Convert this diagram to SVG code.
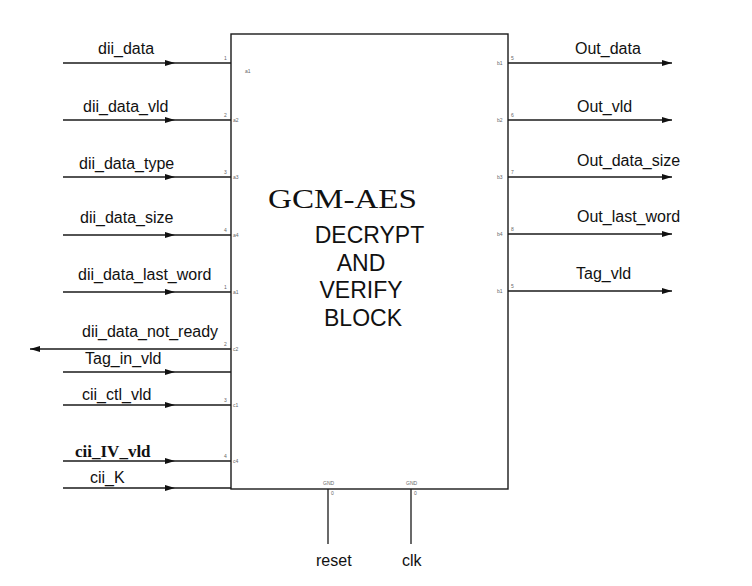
<svg xmlns="http://www.w3.org/2000/svg" width="752" height="586" viewBox="0 0 752 586">
<style>
.w{fill:none;stroke:#1a1a1a;stroke-width:1.3}
.lbl{font-family:"Liberation Sans",Arial,sans-serif;font-size:16px;fill:#111}
.pin{font-family:"Liberation Sans",Arial,sans-serif;font-size:5px;fill:#666}
.big{font-family:"Liberation Sans",Arial,sans-serif;font-size:23px;fill:#111;text-anchor:middle}
</style>
<defs>
<marker id="ah" markerUnits="userSpaceOnUse" markerWidth="12" markerHeight="8" refX="10" refY="4" orient="auto">
<path d="M0,1 L10,4 L0,7 Z" fill="#111"/>
</marker>
</defs>
<rect width="752" height="586" fill="#fff"/>
<g id="block">
<rect x="231" y="34" width="277" height="455" fill="#fff" stroke="#1a1a1a" stroke-width="1.4"/>
<text x="268" y="208" textLength="149" lengthAdjust="spacingAndGlyphs" style="font-family:'Liberation Serif','Times New Roman',serif;font-size:28px;fill:#111">GCM-AES</text>
<text class="big" x="369.5" y="243">DECRYPT</text>
<text class="big" x="361" y="271">AND</text>
<text class="big" x="361" y="298">VERIFY</text>
<text class="big" x="363" y="326">BLOCK</text>
<g class="pin">
<text x="224" y="60">1</text><text x="245" y="73">a1</text>
<text x="224" y="117">2</text><text x="233" y="122">a2</text>
<text x="224" y="174">3</text><text x="233" y="179">a3</text>
<text x="224" y="232">4</text><text x="233" y="237">a4</text>
<text x="224" y="289">1</text><text x="233" y="294">a1</text>
<text x="224" y="346">2</text><text x="233" y="351">c2</text>
<text x="224" y="402">3</text><text x="233" y="407">c1</text>
<text x="224" y="458">4</text><text x="233" y="463">c4</text>
<text x="511" y="60">5</text><text x="497" y="65">b1</text>
<text x="511" y="117">6</text><text x="497" y="122">b2</text>
<text x="511" y="174">7</text><text x="497" y="179">b3</text>
<text x="511" y="231">8</text><text x="497" y="236">b4</text>
<text x="511" y="288">5</text><text x="497" y="293">b1</text>
<text x="323" y="485">GND</text><text x="331" y="495">0</text>
<text x="406" y="485">GND</text><text x="414" y="495">0</text>
</g>
</g>
<g id="connectors">
<path class="w" d="M63,63 H175 H231" marker-mid="url(#ah)"/>
<path class="w" d="M63,120 H175 H231" marker-mid="url(#ah)"/>
<path class="w" d="M63,177 H175 H231" marker-mid="url(#ah)"/>
<path class="w" d="M63,235 H175 H231" marker-mid="url(#ah)"/>
<path class="w" d="M63,292 H175 H231" marker-mid="url(#ah)"/>
<path class="w" d="M231,349 H30" marker-end="url(#ah)"/>
<path class="w" d="M63,372 H175 H231" marker-mid="url(#ah)"/>
<path class="w" d="M63,405 H175 H231" marker-mid="url(#ah)"/>
<path class="w" d="M63,461 H175 H231" marker-mid="url(#ah)"/>
<path class="w" d="M63,488 H175 H231" marker-mid="url(#ah)"/>
<path class="w" d="M508,63 H672" marker-end="url(#ah)"/>
<path class="w" d="M508,120 H672" marker-end="url(#ah)"/>
<path class="w" d="M508,177 H672" marker-end="url(#ah)"/>
<path class="w" d="M508,234 H672" marker-end="url(#ah)"/>
<path class="w" d="M508,291 H672" marker-end="url(#ah)"/>
<path class="w" d="M328,489 V544"/>
<path class="w" d="M411,489 V544"/>
</g>
<g id="labels" class="lbl">
<text x="98" y="54">dii_data</text>
<text x="83" y="112">dii_data_vld</text>
<text x="79" y="169">dii_data_type</text>
<text x="80" y="223">dii_data_size</text>
<text x="78" y="280">dii_data_last_word</text>
<text x="82" y="337">dii_data_not_ready</text>
<text x="85" y="364">Tag_in_vld</text>
<text x="82" y="400">cii_ctl_vld</text>
<text x="75" y="457" style="font-family:'Liberation Serif','Times New Roman',serif;font-size:17px;font-weight:bold">cii_IV_vld</text>
<text x="90" y="483">cii_K</text>
<text x="575" y="54">Out_data</text>
<text x="577" y="112">Out_vld</text>
<text x="577" y="166">Out_data_size</text>
<text x="577" y="222">Out_last_word</text>
<text x="576" y="279">Tag_vld</text>
<text x="316" y="566">reset</text>
<text x="402" y="566">clk</text>
</g>
</svg>
